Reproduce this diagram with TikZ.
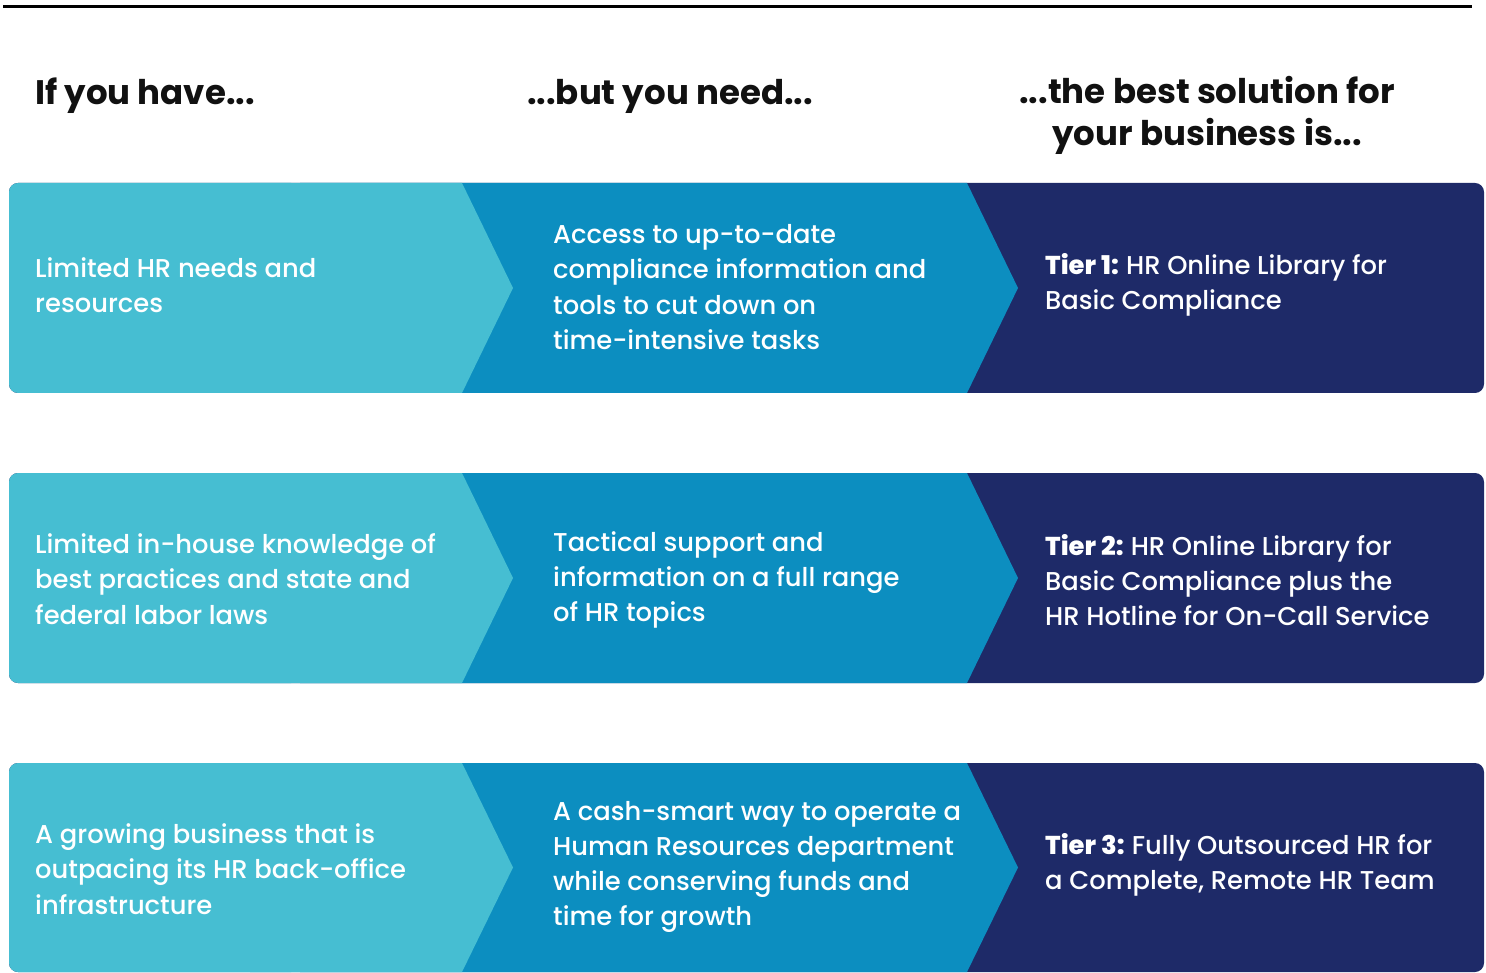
\documentclass[tikz,border=0pt]{standalone}
\usepackage{fontspec}
\setmainfont{Poppins}
\newfontfamily\medfont{Poppins Medium}
\definecolor{cLight}{HTML}{46BED2}
\definecolor{cMid}{HTML}{0C8EC0}
\definecolor{cDark}{HTML}{1E2A68}
\definecolor{cHead}{HTML}{111111}
\begin{document}
\begin{tikzpicture}[x=1pt,y=-1pt,
  head/.style={font=\fontsize{34}{42}\selectfont\bfseries, text=cHead, inner sep=0pt},
  body/.style={font=\medfont\fontsize{25.8}{35.2}\selectfont, text=white, inner sep=0pt, align=left, anchor=west},
]
\useasboundingbox (0,0) rectangle (1486,973);
\fill[white] (0,0) rectangle (1486,973);
\draw[line width=3pt, black] (3,6.5) -- (1472,6.5);

% rows
\foreach \t/\b in {183/393, 473/683, 763/972}{
  \pgfmathsetmacro{\m}{(\t+\b)/2}
  \fill[cDark, rounded corners=9pt] (9,\t) rectangle (1484,\b);
  \fill[cMid] (300,\t) -- (967,\t) -- (1018,\m) -- (967,\b) -- (300,\b) -- cycle;
  \fill[cLight, rounded corners=9pt] (9,\t) rectangle (300,\b);
  \fill[cLight] (250,\t) -- (462,\t) -- (513,\m) -- (462,\b) -- (250,\b) -- cycle;
}

% headers
\node[head, anchor=base west] (h1) at (35,105) {If you have...};
\node[head, anchor=base west] (h2) at (527,105) {...but you need...};
\node[head, align=center, anchor=north] (h3) at (1207,76) {...the best solution for\\your business is...};

% row 1
\node[body] (a1) at (35,285) {Limited HR needs and\\resources};
\node[body] (b1) at (553,287) {Access to up-to-date\\compliance information and\\tools to cut down on\\time-intensive tasks};
\node[body] (c1) at (1045,285) {\textbf{Tier 1:}\hspace{0.28em}HR Online Library for\\Basic Compliance};

% row 2
\node[body] (a2) at (35,579) {Limited in-house knowledge of\\best practices and state and\\federal labor laws};
\node[body] (b2) at (553,580) {Tactical support and\\information on a full range\\of HR topics};
\node[body] (c2) at (1045,580) {\textbf{Tier 2:}\hspace{0.28em}HR Online Library for\\Basic Compliance plus the\\HR Hotline for On-Call Service};

% row 3
\node[body] (a3) at (35,869) {A growing business that is\\outpacing its HR back-office\\infrastructure};
\node[body] (b3) at (553,867) {A cash-smart way to operate a\\Human Resources department\\while conserving funds and\\time for growth};
\node[body] (c3) at (1045,865) {\textbf{Tier 3:}\hspace{0.28em}Fully Outsourced HR for\\a Complete, Remote HR Team};
\end{tikzpicture}
\end{document}
